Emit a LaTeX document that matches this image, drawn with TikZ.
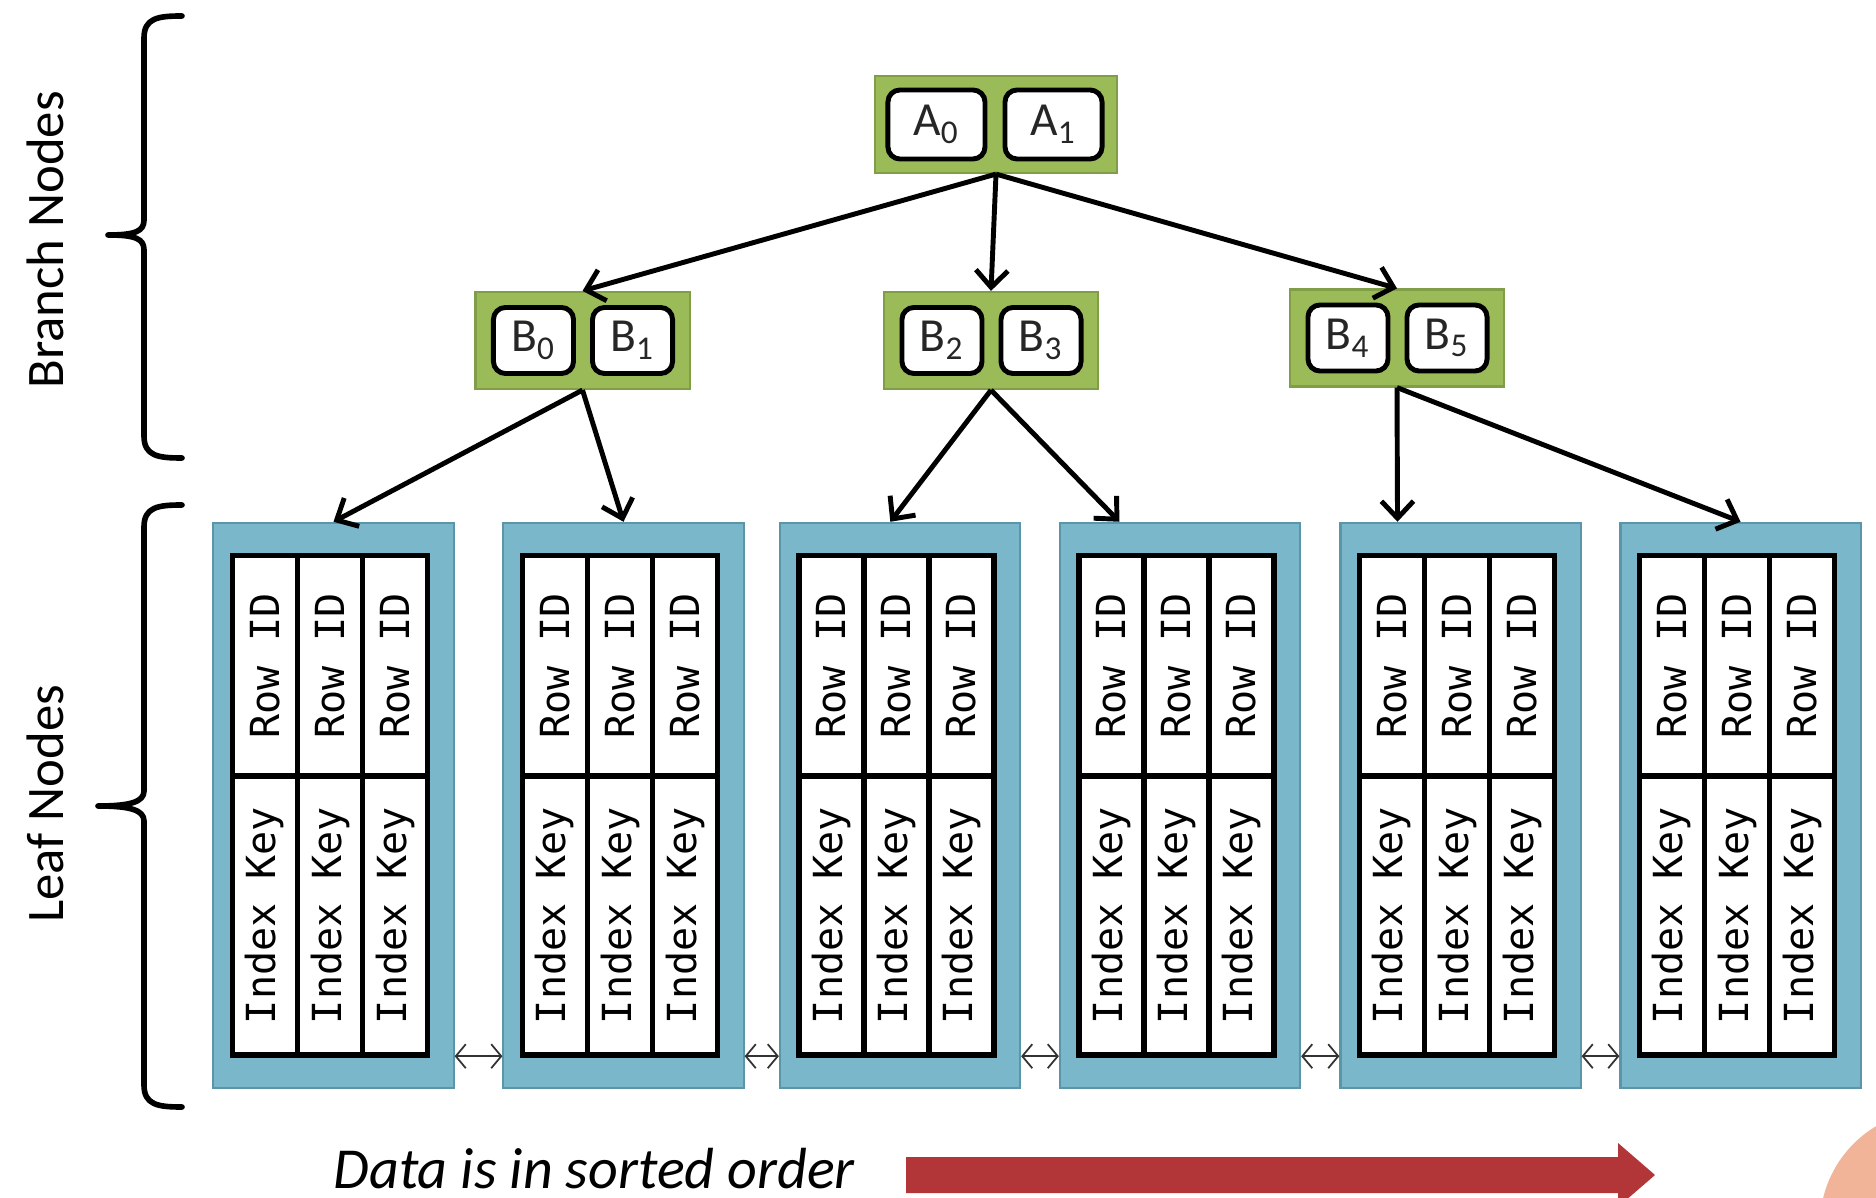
\documentclass[tikz,border=0pt]{standalone}
\usepackage{fontspec}
\usepackage{graphicx}
\setmainfont{Carlito}
\newfontfamily\cellfont{DejaVu Sans Mono}
\usetikzlibrary{arrows.meta,calc,positioning}

\definecolor{branchgreen}{RGB}{155,187,89}
\definecolor{branchedge}{RGB}{128,158,72}
\definecolor{leafblue}{RGB}{122,183,202}
\definecolor{leafedge}{RGB}{92,148,168}
\definecolor{sortred}{RGB}{178,54,56}
\definecolor{salmon}{RGB}{242,180,152}

\tikzset{
	branchbox/.style={draw=branchedge, line width=0.6pt, fill=branchgreen, minimum height=0.97cm},
	keybox/.style={draw, line width=1.4pt, fill=white, rounded corners=0.12cm, inner sep=0pt,
		minimum width=0.8cm, minimum height=0.66cm, text=black!85, font=\fontsize{13.5}{16}\selectfont},
	leafbox/.style={draw=leafedge, line width=0.6pt, fill=leafblue, minimum width=2.4cm, minimum height=5.65cm},
	rowcell/.style={draw, line width=1.5pt, fill=white, inner sep=0pt, outer sep=0pt,
		minimum width=0.65cm, minimum height=2.2cm, font=\cellfont\fontsize{11.4}{13}\selectfont},
	keycell/.style={rowcell, minimum height=2.79cm},
	edgearrow/.style={line width=1.4pt, -{Straight Barb[length=0.17cm,width=0.32cm]}},
	leaflink/.style={line width=0.5pt, black!80, {Straight Barb[length=0.1cm,width=0.24cm]}-{Straight Barb[length=0.1cm,width=0.24cm]}},
	bracket/.style={line width=1.6pt, line cap=round, line join=round},
	sidelabel/.style={rotate=90, font=\fontsize{15}{18}\selectfont}
}

\begin{document}
\begin{tikzpicture}[x=0.01cm, y=-0.01cm]
	\useasboundingbox (0,0) rectangle (1876,1198);

	% root
	\node [branchbox, minimum width=2.42cm] (root) at (996,124.5) {};
	\node [keybox, minimum width=0.97cm, minimum height=0.69cm] (a0) at ([xshift=-0.595cm]root.center) {A\textsubscript{0}};
	\node [keybox, minimum width=0.97cm, minimum height=0.69cm] (a1) at ([xshift=0.575cm]root.center) {A\textsubscript{1}};

	% branch nodes
	\foreach \n/\x/\y/\l/\r in {b01/582.5/340.5/0/1, b23/991/340.5/2/3, b45/1397/338/4/5} {
		\node [branchbox, minimum width=2.14cm] (\n) at (\x,\y) {};
		\node [keybox] (b\l) at ([xshift=-0.49cm]\n.center) {B\textsubscript{\l}};
		\node [keybox] (b\r) at ([xshift=0.5cm]\n.center) {B\textsubscript{\r}};
	}

	% leaf nodes
	\foreach \i/\x in {1/333.5, 2/623.5, 3/900, 4/1180, 5/1460.5, 6/1740.5} {
		\node [leafbox] (leaf\i) at (\x,805.5) {};
		\foreach \col in {0,1,2} {
			\node [rowcell, anchor=north west] (row\i\col) at ([xshift={0.2cm+0.65cm*\col}, yshift=-0.34cm]leaf\i.north west) {\rotatebox{90}{Row ID}};
			\node [keycell, anchor=north] (key\i\col) at (row\i\col.south) {\rotatebox{90}{Index Key}};
		}
	}

	% tree edges
	\draw [edgearrow] (root.south) -- (b01.north);
	\draw [edgearrow] (root.south) -- (b23.north);
	\draw [edgearrow] (root.south) -- (b45.north);
	\draw [edgearrow] (b01.south) -- (leaf1.north);
	\draw [edgearrow] (b01.south) -- (leaf2.north);
	\draw [edgearrow] (b23.south) -- ($(leaf3.north west)!0.46!(leaf3.north east)$);
	\draw [edgearrow] (b23.south) -- ($(leaf4.north west)!0.25!(leaf4.north east)$);
	\draw [edgearrow] (b45.south) -- ($(leaf5.north west)!0.24!(leaf5.north east)$);
	\draw [edgearrow] (b45.south) -- (leaf6.north);

	% links between leaves
	\foreach \i/\j in {1/2, 2/3, 3/4, 4/5, 5/6}
		\draw [leaflink] ([yshift=0.33cm]leaf\i.south east) -- ([yshift=0.33cm]leaf\j.south west);

	% braces and labels
	\draw [bracket] (182,16) .. controls (158,16) and (144,18) .. (144,38) -- (144,220)
		.. controls (144,231) and (136,235) .. (108,235) .. controls (136,235) and (144,239) .. (144,250)
		-- (144,436) .. controls (144,456) and (158,458) .. (182,458);
	\draw [bracket] (182,505) .. controls (158,505) and (144,507) .. (144,527) -- (144,791)
		.. controls (144,802) and (130,806) .. (98,806) .. controls (130,806) and (144,810) .. (144,821)
		-- (144,1085) .. controls (144,1105) and (158,1107) .. (182,1107);
	\node [sidelabel] (branchlabel) at (45,240) {Branch Nodes};
	\node [sidelabel] (leaflabel) at (45,804) {Leaf Nodes};

	% sorted order
	\node [anchor=base west, inner sep=0pt, font=\itshape\fontsize{16.5}{20}\selectfont] (sortlabel) at (333,1188) {Data is in sorted order};
	\fill [sortred] (906,1157) -- (1618,1157) -- (1618,1143) -- (1655,1175) -- (1618,1207) -- (1618,1193) -- (906,1193) -- cycle;
	\begin{scope}
		\clip (0,0) rectangle (1876,1198);
		\fill [salmon] (1935,1225) circle [radius=1.15cm];
	\end{scope}
\end{tikzpicture}
\end{document}
